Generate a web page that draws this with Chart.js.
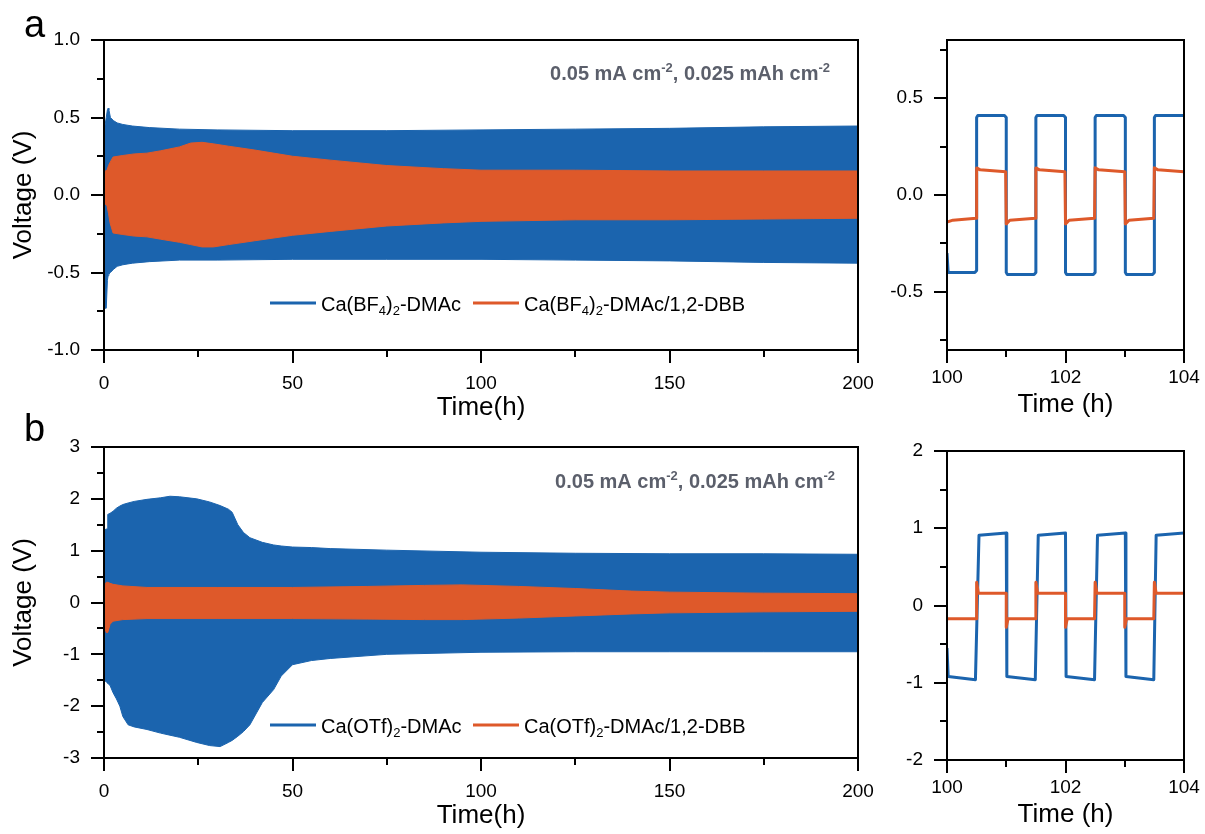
<!DOCTYPE html>
<html>
<head>
<meta charset="utf-8">
<script src="https://cdn.jsdelivr.net/npm/chart.js@4/dist/chart.umd.min.js"></script>
<style>
  html, body { margin: 0; padding: 0; background: #fff; overflow: hidden; width: 1205px; height: 834px; }
  canvas { position: absolute; }
</style>
</head>
<body>
<canvas id="mainA" width="880" height="430" style="left:0;top:0;width:880px;height:430px"></canvas>
<canvas id="zoomA" width="325" height="430" style="left:880px;top:0;width:325px;height:430px"></canvas>
<canvas id="mainB" width="880" height="428" style="left:0;top:410px;width:880px;height:428px"></canvas>
<canvas id="zoomB" width="325" height="428" style="left:880px;top:410px;width:325px;height:428px"></canvas>
<script>
// ---- series: long-term cycling (upper / lower voltage envelopes) ----
const timeBlueA  = [0, 0.2, 0.6, 0.9, 1.1, 1.3, 1.7, 2.5, 3.5, 5, 7.5, 12, 20, 30, 50, 75, 100, 125, 150, 175, 200];
const upperBlueA = [0.42, 0.44, 0.50, 0.55, 0.56, 0.55, 0.50, 0.48, 0.465, 0.455, 0.445, 0.435, 0.425, 0.42, 0.415, 0.415, 0.42, 0.425, 0.43, 0.44, 0.445];
const lowerBlueA = [-0.60, -0.73, -0.73, -0.55, -0.52, -0.51, -0.50, -0.48, -0.46, -0.45, -0.44, -0.43, -0.42, -0.42, -0.415, -0.415, -0.415, -0.42, -0.425, -0.435, -0.44];

const timeOrangeA  = [0, 0.8, 1.2, 1.6, 2.4, 5, 8, 11.4, 15, 20, 23, 26, 29, 33, 40, 50, 60, 75, 90, 100, 125, 150, 175, 200];
const upperOrangeA = [0.15, 0.16, 0.19, 0.21, 0.245, 0.255, 0.265, 0.27, 0.285, 0.31, 0.335, 0.34, 0.33, 0.315, 0.29, 0.25, 0.225, 0.19, 0.17, 0.16, 0.16, 0.155, 0.155, 0.155];
const lowerOrangeA = [-0.05, -0.07, -0.12, -0.18, -0.245, -0.255, -0.265, -0.27, -0.285, -0.305, -0.32, -0.335, -0.335, -0.32, -0.295, -0.26, -0.235, -0.2, -0.18, -0.17, -0.16, -0.16, -0.155, -0.15];

const timeBlueB  = [0, 0.8, 1.0, 1.6, 2.4, 3.3, 4.2, 5, 6.4, 8, 11.4, 15, 17.5, 20, 24.6, 28, 30.8, 33, 34, 35.5, 37, 38.7, 42, 45, 47, 50, 55, 60, 75, 100, 125, 150, 175, 200];
const upperBlueB = [1.40, 1.42, 1.70, 1.72, 1.76, 1.82, 1.86, 1.89, 1.92, 1.95, 1.99, 2.02, 2.05, 2.04, 2.0, 1.94, 1.87, 1.80, 1.74, 1.5, 1.35, 1.25, 1.16, 1.11, 1.09, 1.07, 1.06, 1.04, 1.01, 0.97, 0.95, 0.94, 0.94, 0.93];
const lowerBlueB = [-1.5, -1.54, -1.56, -1.6, -1.74, -1.86, -2.0, -2.2, -2.36, -2.4, -2.45, -2.52, -2.56, -2.6, -2.7, -2.76, -2.78, -2.7, -2.66, -2.58, -2.49, -2.36, -1.93, -1.68, -1.42, -1.2, -1.12, -1.08, -1.0, -0.96, -0.95, -0.95, -0.95, -0.95];

const timeOrangeB  = [0, 0.6, 1.0, 1.6, 2.4, 5, 11.4, 30, 50, 70, 85, 95, 110, 125, 140, 150, 175, 200];
const upperOrangeB = [0.30, 0.39, 0.39, 0.37, 0.35, 0.32, 0.29, 0.29, 0.29, 0.31, 0.33, 0.34, 0.31, 0.27, 0.22, 0.20, 0.18, 0.17];
const lowerOrangeB = [-0.45, -0.58, -0.58, -0.42, -0.36, -0.33, -0.31, -0.31, -0.31, -0.32, -0.33, -0.33, -0.30, -0.26, -0.22, -0.20, -0.18, -0.17];

// ---- series: 100-104 h detail (time, voltage) ----
const zoomBlueA = [[100.0,-0.30],[100.02,-0.40],[100.47,-0.40],[100.5,-0.39],[100.5,0.40],[100.52,0.41],[100.97,0.41],[101.0,0.40],[101.0,-0.40],[101.02,-0.41],[101.47,-0.41],[101.5,-0.40],[101.5,0.40],[101.52,0.41],[101.97,0.41],[102.0,0.40],[102.0,-0.40],[102.02,-0.41],[102.47,-0.41],[102.5,-0.40],[102.5,0.40],[102.52,0.41],[102.98,0.41],[103.01,0.40],[103.01,-0.40],[103.03,-0.41],[103.47,-0.41],[103.5,-0.40],[103.5,0.40],[103.52,0.41],[104.0,0.41]];
const zoomOrangeA = [[100.0,-0.14],[100.1,-0.13],[100.49,-0.12],[100.5,0.14],[100.56,0.13],[100.99,0.12],[101.0,-0.15],[101.06,-0.13],[101.49,-0.12],[101.5,0.14],[101.56,0.13],[101.99,0.12],[102.0,-0.15],[102.06,-0.13],[102.49,-0.12],[102.5,0.14],[102.56,0.13],[103.0,0.12],[103.01,-0.15],[103.07,-0.13],[103.49,-0.12],[103.5,0.14],[103.56,0.13],[104.0,0.12]];
const zoomBlueB = [[100.0,-0.55],[100.02,-0.92],[100.48,-0.96],[100.54,0.91],[101.0,0.94],[101.01,-0.92],[101.49,-0.96],[101.54,0.91],[102.0,0.94],[102.01,-0.92],[102.49,-0.96],[102.54,0.91],[103.01,0.94],[103.02,-0.92],[103.49,-0.96],[103.53,0.91],[104.0,0.94]];
const zoomOrangeB = [[100.0,-0.17],[100.49,-0.17],[100.5,0.30],[100.53,0.16],[101.0,0.16],[101.0,-0.28],[101.03,-0.17],[101.49,-0.17],[101.5,0.30],[101.53,0.16],[102.0,0.16],[102.0,-0.28],[102.03,-0.17],[102.49,-0.17],[102.5,0.30],[102.53,0.16],[103.0,0.16],[103.0,-0.28],[103.03,-0.17],[103.49,-0.17],[103.5,0.30],[103.53,0.16],[104.0,0.16]];

// ---- series names ----
const namesA = ['Ca(BF_{4})_{2}-DMAc', 'Ca(BF_{4})_{2}-DMAc/1,2-DBB'];
const namesB = ['Ca(OTf)_{2}-DMAc', 'Ca(OTf)_{2}-DMAc/1,2-DBB'];
const conditionText = '0.05 mA cm^{-2}, 0.025 mAh cm^{-2}';

// ---- axis ticks ----
const mainXTicks = [0, 50, 100, 150, 200];
const mainXLabels = ['0', '50', '100', '150', '200'];
const mainXMinor = [25, 75, 125, 175];
const zoomXTicks = [100, 102, 104];
const zoomXLabels = ['100', '102', '104'];
const zoomXMinor = [101, 103];
const yTicksA = [-1.0, -0.5, 0, 0.5, 1.0];
const yLabelsA = ['-1.0', '-0.5', '0.0', '0.5', '1.0'];
const yMinorA = [-0.75, -0.25, 0.25, 0.75];
const yTicksZA = [-0.5, 0, 0.5];
const yLabelsZA = ['-0.5', '0.0', '0.5'];
const yMinorZA = [-0.75, -0.25, 0.25, 0.75];
const yTicksB = [-3, -2, -1, 0, 1, 2, 3];
const yLabelsB = ['-3', '-2', '-1', '0', '1', '2', '3'];
const yMinorB = [-2.5, -1.5, -0.5, 0.5, 1.5, 2.5];
const yTicksZB = [-2, -1, 0, 1, 2];
const yLabelsZB = ['-2', '-1', '0', '1', '2'];
const yMinorZB = [-1.5, -0.5, 0.5, 1.5];

const BLUE = '#1b64ae';
const ORANGE = '#de592a';
const NOTE_GREY = '#5b5f6b';
const FONT = "'Liberation Sans', Arial, Helvetica, sans-serif";

const zip = (xs, ys) => xs.map((x, i) => ({ x, y: ys[i] }));
const pairs = arr => arr.map(([x, y]) => ({ x, y }));

// text with _{sub} and ^{sup} runs
function parseRich(s) {
  const out = []; const re = /([_^])\{([^}]*)\}/g; let last = 0, m;
  while ((m = re.exec(s))) {
    if (m.index > last) out.push({ t: s.slice(last, m.index), k: 0 });
    out.push({ t: m[2], k: m[1] === '_' ? 1 : 2 });
    last = re.lastIndex;
  }
  if (last < s.length) out.push({ t: s.slice(last), k: 0 });
  return out;
}
function drawRich(ctx, s, x, y, size, weight, color, align) {
  const parts = parseRich(s);
  const small = Math.round(size * 0.65);
  const fontOf = k => `${weight} ${k ? small : size}px ${FONT}`;
  let w = 0;
  parts.forEach(p => { ctx.font = fontOf(p.k); p.w = ctx.measureText(p.t).width; w += p.w; });
  let cx = align === 'right' ? x - w : x;
  ctx.fillStyle = color; ctx.textAlign = 'left'; ctx.textBaseline = 'alphabetic';
  parts.forEach(p => {
    ctx.font = fontOf(p.k);
    const dy = p.k === 1 ? size * 0.22 : (p.k === 2 ? -size * 0.4 : 0);
    ctx.fillText(p.t, cx, y + dy);
    cx += p.w;
  });
}

// box frame, outward major/minor tick marks, legend, condition note and panel letter
const panelDecor = {
  id: 'panelDecor',
  afterDatasetsDraw(chart, args, o) {
    const { ctx, chartArea: a } = chart;
    const { x, y } = chart.scales;
    ctx.save();
    ctx.strokeStyle = '#000';
    ctx.lineWidth = 2;
    ctx.strokeRect(a.left, a.top, a.right - a.left, a.bottom - a.top);
    ctx.beginPath();
    const xm = (vals, len) => vals.forEach(v => { const p = Math.round(x.getPixelForValue(v)); ctx.moveTo(p, a.bottom); ctx.lineTo(p, a.bottom + len); });
    const ym = (vals, len) => vals.forEach(v => { const p = Math.round(y.getPixelForValue(v)); ctx.moveTo(a.left, p); ctx.lineTo(a.left - len, p); });
    xm(o.xMajor, 13); xm(o.xMinor, 7); ym(o.yMajor, 13); ym(o.yMinor, 7);
    ctx.stroke();

    if (o.legend) {
      const items = chart.data.datasets.filter(d => d.legendEntry);
      items.sort((p, q) => p.legendEntry - q.legendEntry);
      items.forEach((d, i) => {
        const x0 = o.legend.x[i];
        ctx.beginPath();
        ctx.strokeStyle = d.borderColor; ctx.lineWidth = 3;
        ctx.moveTo(x0, o.legend.y); ctx.lineTo(x0 + 46, o.legend.y);
        ctx.stroke();
        drawRich(ctx, d.label, x0 + 51, o.legend.y + 8, 20, 'normal', '#000', 'left');
      });
    }
    if (o.note) drawRich(ctx, o.note.text, o.note.x, o.note.y, 20, 'bold', NOTE_GREY, 'right');
    if (o.tag) {
      ctx.font = `38px ${FONT}`; ctx.fillStyle = '#000'; ctx.textAlign = 'left'; ctx.textBaseline = 'alphabetic';
      ctx.fillText(o.tag.text, o.tag.x, o.tag.y);
    }
    ctx.restore();
  }
};

function makePanel(id, c) {
  return new Chart(document.getElementById(id), {
    type: 'line',
    data: { datasets: c.datasets },
    options: {
      responsive: false,
      animation: false,
      events: [],
      layout: { padding: { top: c.padTop, right: c.padRight, left: 0, bottom: 0 } },
      elements: { point: { radius: 0 }, line: { tension: 0 } },
      plugins: {
        legend: { display: false },
        tooltip: { enabled: false },
        panelDecor: {
          xMajor: c.xTicks, xMinor: c.xMinor, yMajor: c.yTicks, yMinor: c.yMinor,
          legend: c.legend, note: c.note, tag: c.tag
        }
      },
      scales: {
        x: {
          type: 'linear', min: c.xMin, max: c.xMax,
          afterBuildTicks: s => { s.ticks = c.xTicks.map(v => ({ value: v })); },
          afterFit: s => { s.height = c.xHeight; s.paddingLeft = 0; s.paddingRight = 0; },
          grid: { display: false, drawTicks: false },
          border: { display: false },
          ticks: {
            autoSkip: false, maxRotation: 0, padding: c.xPad, color: '#000',
            font: { family: FONT, size: 19 },
            callback: (v, i) => c.xLabels[i]
          },
          title: {
            display: true, text: c.xTitle, color: '#000',
            font: { family: FONT, size: 26 }, padding: { top: 0, bottom: c.xTitlePad }
          }
        },
        y: {
          type: 'linear', min: c.yMin, max: c.yMax,
          afterBuildTicks: s => { s.ticks = c.yTicks.map(v => ({ value: v })); },
          afterFit: s => { s.width = c.yWidth; s.paddingTop = 0; s.paddingBottom = 0; },
          grid: { display: false, drawTicks: false },
          border: { display: false },
          ticks: {
            autoSkip: false, padding: 24, color: '#000',
            font: { family: FONT, size: 19 },
            callback: (v, i) => c.yLabels[i]
          },
          title: {
            display: !!c.yTitle, text: c.yTitle || '', color: '#000',
            font: { family: FONT, size: 26 }, padding: { top: 8, bottom: 0 }
          }
        }
      }
    },
    plugins: [panelDecor]
  });
}

// filled band between an upper and a lower envelope
function band(name, color, times, upper, lower, order, entry) {
  return [
    { label: name, legendEntry: entry, data: zip(times, upper), borderColor: color, backgroundColor: color,
      borderWidth: 1, fill: '+1', order },
    { label: name + ' (lower)', data: zip(times, lower), borderColor: color, backgroundColor: color,
      borderWidth: 1, fill: false, order }
  ];
}
function trace(name, color, pts, order) {
  return { label: name, data: pairs(pts), borderColor: color, backgroundColor: color, borderWidth: 3,
    borderJoinStyle: 'round', fill: false, order };
}

makePanel('mainA', {
  datasets: [
    ...band(namesA[0], BLUE, timeBlueA, upperBlueA, lowerBlueA, 1, 1),
    ...band(namesA[1], ORANGE, timeOrangeA, upperOrangeA, lowerOrangeA, 0, 2)
  ],
  xMin: 0, xMax: 200, yMin: -1, yMax: 1,
  xTicks: mainXTicks, xLabels: mainXLabels, xMinor: mainXMinor,
  yTicks: yTicksA, yLabels: yLabelsA, yMinor: yMinorA,
  padTop: 40, padRight: 22, yWidth: 104, xHeight: 80, xPad: 22, xTitlePad: 7,
  xTitle: 'Time(h)', yTitle: 'Voltage (V)',
  legend: { x: [270, 473], y: 303 },
  note: { text: conditionText, x: 830, y: 80 },
  tag: { text: 'a', x: 24, y: 37 }
});

makePanel('zoomA', {
  datasets: [trace(namesA[0], BLUE, zoomBlueA, 1), trace(namesA[1], ORANGE, zoomOrangeA, 0)],
  xMin: 100, xMax: 104, yMin: -0.8, yMax: 0.8,
  xTicks: zoomXTicks, xLabels: zoomXLabels, xMinor: zoomXMinor,
  yTicks: yTicksZA, yLabels: yLabelsZA, yMinor: yMinorZA,
  padTop: 40, padRight: 21, yWidth: 67, xHeight: 80, xPad: 16, xTitlePad: 10,
  xTitle: 'Time (h)'
});

makePanel('mainB', {
  datasets: [
    ...band(namesB[0], BLUE, timeBlueB, upperBlueB, lowerBlueB, 1, 1),
    ...band(namesB[1], ORANGE, timeOrangeB, upperOrangeB, lowerOrangeB, 0, 2)
  ],
  xMin: 0, xMax: 200, yMin: -3, yMax: 3,
  xTicks: mainXTicks, xLabels: mainXLabels, xMinor: mainXMinor,
  yTicks: yTicksB, yLabels: yLabelsB, yMinor: yMinorB,
  padTop: 37, padRight: 22, yWidth: 104, xHeight: 80, xPad: 22, xTitlePad: 7,
  xTitle: 'Time(h)', yTitle: 'Voltage (V)',
  legend: { x: [270, 473], y: 315 },
  note: { text: conditionText, x: 835, y: 78 },
  tag: { text: 'b', x: 24, y: 31 }
});

makePanel('zoomB', {
  datasets: [trace(namesB[0], BLUE, zoomBlueB, 1), trace(namesB[1], ORANGE, zoomOrangeB, 0)],
  xMin: 100, xMax: 104, yMin: -2, yMax: 2,
  xTicks: zoomXTicks, xLabels: zoomXLabels, xMinor: zoomXMinor,
  yTicks: yTicksZB, yLabels: yLabelsZB, yMinor: yMinorZB,
  padTop: 41, padRight: 21, yWidth: 67, xHeight: 78, xPad: 16, xTitlePad: 8,
  xTitle: 'Time (h)'
});
</script>
</body>
</html>
